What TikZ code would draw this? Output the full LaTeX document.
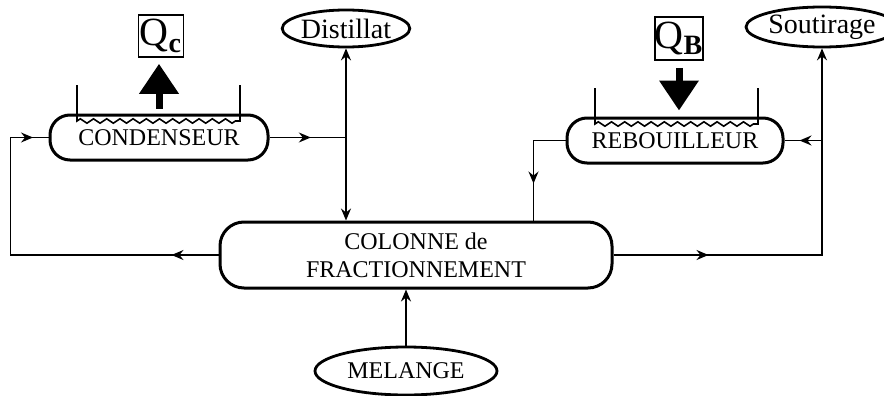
\documentclass[tikz,border=0pt]{standalone}
\usepackage{fontspec}
\setmainfont{Liberation Serif}
\usetikzlibrary{arrows.meta, shapes.geometric, decorations.markings, decorations.pathmorphing}
\tikzset{
  unite/.style={draw, rectangle, rounded corners=10pt, line width=1.5pt, minimum width=109pt, minimum height=22.5pt, inner sep=0pt, align=center, font=\fontsize{12}{14}\selectfont},
  flux/.style={draw, ellipse, line width=1.4pt, inner sep=0pt, font=\fontsize{14}{16}\selectfont},
  chaleur/.style={draw, rectangle, line width=0.8pt, inner sep=0pt, minimum width=22.5pt, minimum height=21pt, font=\fontsize{20}{20}\selectfont},
  ligne/.style={line width=0.8pt},
  pointe/.style={-{Stealth[length=6pt, width=5pt, inset=2pt]}},
  fleche/.style={decoration={markings, mark=at position #1 with {\arrow{Stealth[length=6pt, width=5pt, inset=2pt]}}}, postaction={decorate}},
  deuxfleches/.style 2 args={decoration={markings,
      mark=at position #1 with {\arrow{Stealth[length=6pt, width=5pt, inset=2pt]}},
      mark=at position #2 with {\arrow{Stealth[length=6pt, width=5pt, inset=2pt]}}}, postaction={decorate}},
  epais/.style={line width=3.5pt, -{Triangle[length=15pt, width=19pt]}},
  serpentin/.style={decoration={zigzag, segment length=6.6pt, amplitude=1.1pt}}
}
\begin{document}
\begin{tikzpicture}[x=0.5pt, y=-0.5pt]
          \useasboundingbox (0, 0) rectangle (884, 396);
          % appareils
          \node[unite, minimum width=109pt] (cond) at (159, 137.5) {CONDENSEUR};
          \node[unite, minimum width=108pt] (rebo) at (675, 140.5) {REBOUILLEUR};
          \node[unite, minimum width=196pt, minimum height=33pt, rounded corners=12pt] (col) at (416, 255) {COLONNE de\\FRACTIONNEMENT};
          % entrees et sorties
          \node[flux, minimum width=60pt, minimum height=18.5pt] (dist) at (346, 28.5) {Distillat};
          \node[flux, minimum width=76pt, minimum height=20pt] (sout) at (822, 27) {Soutirage};
          \node[flux, minimum width=91pt, minimum height=24pt, font=\fontsize{12}{14}\selectfont] (mel) at (406, 371) {MELANGE};
          \node[chaleur] (qc) at (161, 36) {Q\textsubscript{\textbf{c}}};
          \node[chaleur, minimum width=24pt, minimum height=21.5pt] (qb) at (679, 38.5) {Q\textsubscript{\textbf{B}}};
          % serpentins
          \draw[ligne] (77, 85) -- (77, 121) decorate[serpentin] {-- (240, 121)} -- (240, 85);
          \draw[ligne] (595, 88) -- (595, 124) decorate[serpentin] {-- (758, 124)} -- (758, 88);
          % chaleur
          \draw[epais, shorten <=2.5pt, shorten >=3pt] (cond.north) -- (cond.north |- qc.south);
          \draw[epais, shorten <=3.5pt, shorten >=3pt] (qb.south) -- (qb.south |- rebo.north);
          % jonctions
          \coordinate (jd) at (cond.east -| dist.south);
          \coordinate (js) at (rebo.east -| sout.south);
          \coordinate (jr) at ([xshift=-16pt]rebo.west);
          \coordinate (jg) at ([xshift=-19pt]cond.west);
          % connexions
          \draw[ligne, fleche=0.54] (cond.east) -- (jd);
          \draw[ligne, {Stealth[length=6pt, width=5pt, inset=2pt]}-{Stealth[length=6pt, width=5pt, inset=2pt]}] (jd |- col.north) -- (jd |- dist.south);
          \draw[ligne, deuxfleches={23.5pt}{174pt}] (col.west) -- (jg |- col.west) -- (jg) -- (cond.west);
          \draw[ligne, fleche=0.67] (rebo.west) -- (jr) -- (jr |- col.north);
          \draw[ligne, fleche=47.5pt, pointe] (col.east) -- (js |- col.east) -- (sout.south);
          \draw[ligne, fleche=0.6] (js) -- (rebo.east);
          \draw[ligne, pointe] (mel.north) -- (mel.north |- col.south);
      \end{tikzpicture}
\end{document}
